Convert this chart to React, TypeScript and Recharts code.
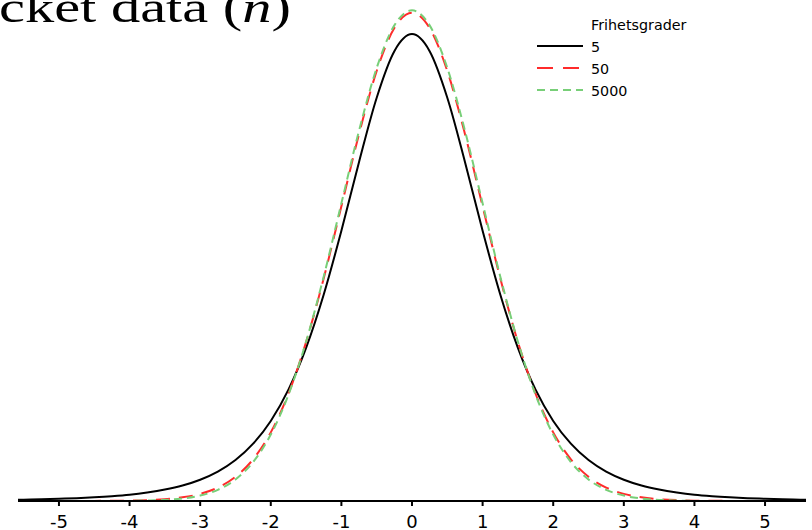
import React from "react";
import { LineChart, Line, XAxis, YAxis, Legend, Customized } from "recharts";

const xs = [-5.58, -5.5, -5.25, -5, -4.75, -4.5, -4.25, -4, -3.75, -3.5, -3.25, -3, -2.75, -2.5, -2.25, -2, -1.75, -1.5, -1.25, -1, -0.75, -0.5, -0.25, 0, 0.25, 0.5, 0.75, 1, 1.25, 1.5, 1.75, 2, 2.25, 2.5, 2.75, 3, 3.25, 3.5, 3.75, 4, 4.25, 4.5, 4.75, 5, 5.25, 5.5, 5.58];

const df5 = [0.0010, 0.0011, 0.0014, 0.0018, 0.0023, 0.0030, 0.0039, 0.0051, 0.0069, 0.0093, 0.0126, 0.0173, 0.0239, 0.0333, 0.0466, 0.0651, 0.0905, 0.1245, 0.1679, 0.2197, 0.2757, 0.3279, 0.3657, 0.3796, 0.3657, 0.3279, 0.2757, 0.2197, 0.1679, 0.1245, 0.0905, 0.0651, 0.0466, 0.0333, 0.0239, 0.0173, 0.0126, 0.0093, 0.0069, 0.0051, 0.0039, 0.0030, 0.0023, 0.0018, 0.0014, 0.0011, 0.0010];

const df50 = [0, 0, 0, 0, 0, 0.0001, 0.0002, 0.0003, 0.0007, 0.0015, 0.0030, 0.0058, 0.0109, 0.0197, 0.0339, 0.0558, 0.0872, 0.1292, 0.1811, 0.2396, 0.2984, 0.3496, 0.3845, 0.3970, 0.3845, 0.3496, 0.2984, 0.2396, 0.1811, 0.1292, 0.0872, 0.0558, 0.0339, 0.0197, 0.0109, 0.0058, 0.0030, 0.0015, 0.0007, 0.0003, 0.0002, 0.0001, 0, 0, 0, 0, 0];

const df5000 = [0, 0, 0, 0, 0, 0, 0, 0.0001, 0.0004, 0.0009, 0.0020, 0.0044, 0.0091, 0.0175, 0.0317, 0.0540, 0.0863, 0.1295, 0.1826, 0.2420, 0.3011, 0.3521, 0.3867, 0.3989, 0.3867, 0.3521, 0.3011, 0.2420, 0.1826, 0.1295, 0.0863, 0.0540, 0.0317, 0.0175, 0.0091, 0.0044, 0.0020, 0.0009, 0.0004, 0.0001, 0, 0, 0, 0, 0, 0, 0];

const xTicks = [-5, -4, -3, -2, -1, 0, 1, 2, 3, 4, 5];
const legendTitle = "Frihetsgrader";
const seriesNames = ["5", "50", "5000"];
const titleText = "cket data (";
const titleVar = "n";
const titleEnd = ")";

const data = xs.map((x, i) => ({ x, t5: df5[i], t50: df50[i], t5000: df5000[i] }));

const RED = "#ff2b2b";
const GREEN = "#78cf78";

const renderLegend = () => (
  <svg width={170} height={95} style={{ display: "block" }}>
    <text x={61} y={20} fontFamily="DejaVu Sans" fontSize={14.3} fill="#000">{legendTitle}</text>
    <line x1={7} x2={53} y1={36} y2={36} stroke="#000" strokeWidth={2} />
    <text x={61} y={41.5} fontFamily="DejaVu Sans" fontSize={14.3} fill="#000">{seriesNames[0]}</text>
    <line x1={7} x2={53} y1={58} y2={58} stroke={RED} strokeWidth={2} strokeDasharray="16 10" />
    <text x={61} y={63.5} fontFamily="DejaVu Sans" fontSize={14.3} fill="#000">{seriesNames[1]}</text>
    <line x1={7} x2={53} y1={80} y2={80} stroke={GREEN} strokeWidth={2} strokeDasharray="8 5" />
    <text x={61} y={85.5} fontFamily="DejaVu Sans" fontSize={14.3} fill="#000">{seriesNames[2]}</text>
  </svg>
);

const Title = () => (
  <text x={-1} y={22} fontFamily="Liberation Serif" fontSize={44} fill="#000" textLength={292} lengthAdjust="spacingAndGlyphs">
    {titleText}
    <tspan fontStyle="italic">{titleVar}</tspan>
    {titleEnd}
  </text>
);

export default function App() {
  return (
    <div style={{ position: "absolute", left: 0, top: 0, width: 812, height: 530, background: "#fff" }}>
      <LineChart width={812} height={530} data={data} margin={{ top: 9, right: 6, bottom: 0, left: 18 }}>
        <XAxis
          dataKey="x"
          type="number"
          domain={[-5.58, 5.58]}
          ticks={xTicks}
          interval={0}
          height={29}
          tickSize={5}
          tickMargin={9}
          axisLine={{ stroke: "#000", strokeWidth: 2 }}
          tickLine={{ stroke: "#000", strokeWidth: 2 }}
          tick={{ fill: "#000", fontSize: 18, fontFamily: "DejaVu Sans" }}
        />
        <YAxis hide domain={[0, 0.4]} />
        <Legend
          layout="vertical"
          align="center"
          verticalAlign="middle"
          content={renderLegend}
          wrapperStyle={{ position: "absolute", left: 530, top: 10, width: 170, height: 95 }}
        />
        <Line type="monotone" dataKey="t5" name={seriesNames[0]} stroke="#000" strokeWidth={2} dot={false} isAnimationActive={false} />
        <Line type="monotone" dataKey="t50" name={seriesNames[1]} stroke={RED} strokeWidth={2} strokeDasharray="14 9" dot={false} isAnimationActive={false} />
        <Line type="monotone" dataKey="t5000" name={seriesNames[2]} stroke={GREEN} strokeWidth={2} strokeDasharray="8 5" dot={false} isAnimationActive={false} />
        <Customized component={Title} />
      </LineChart>
    </div>
  );
}
